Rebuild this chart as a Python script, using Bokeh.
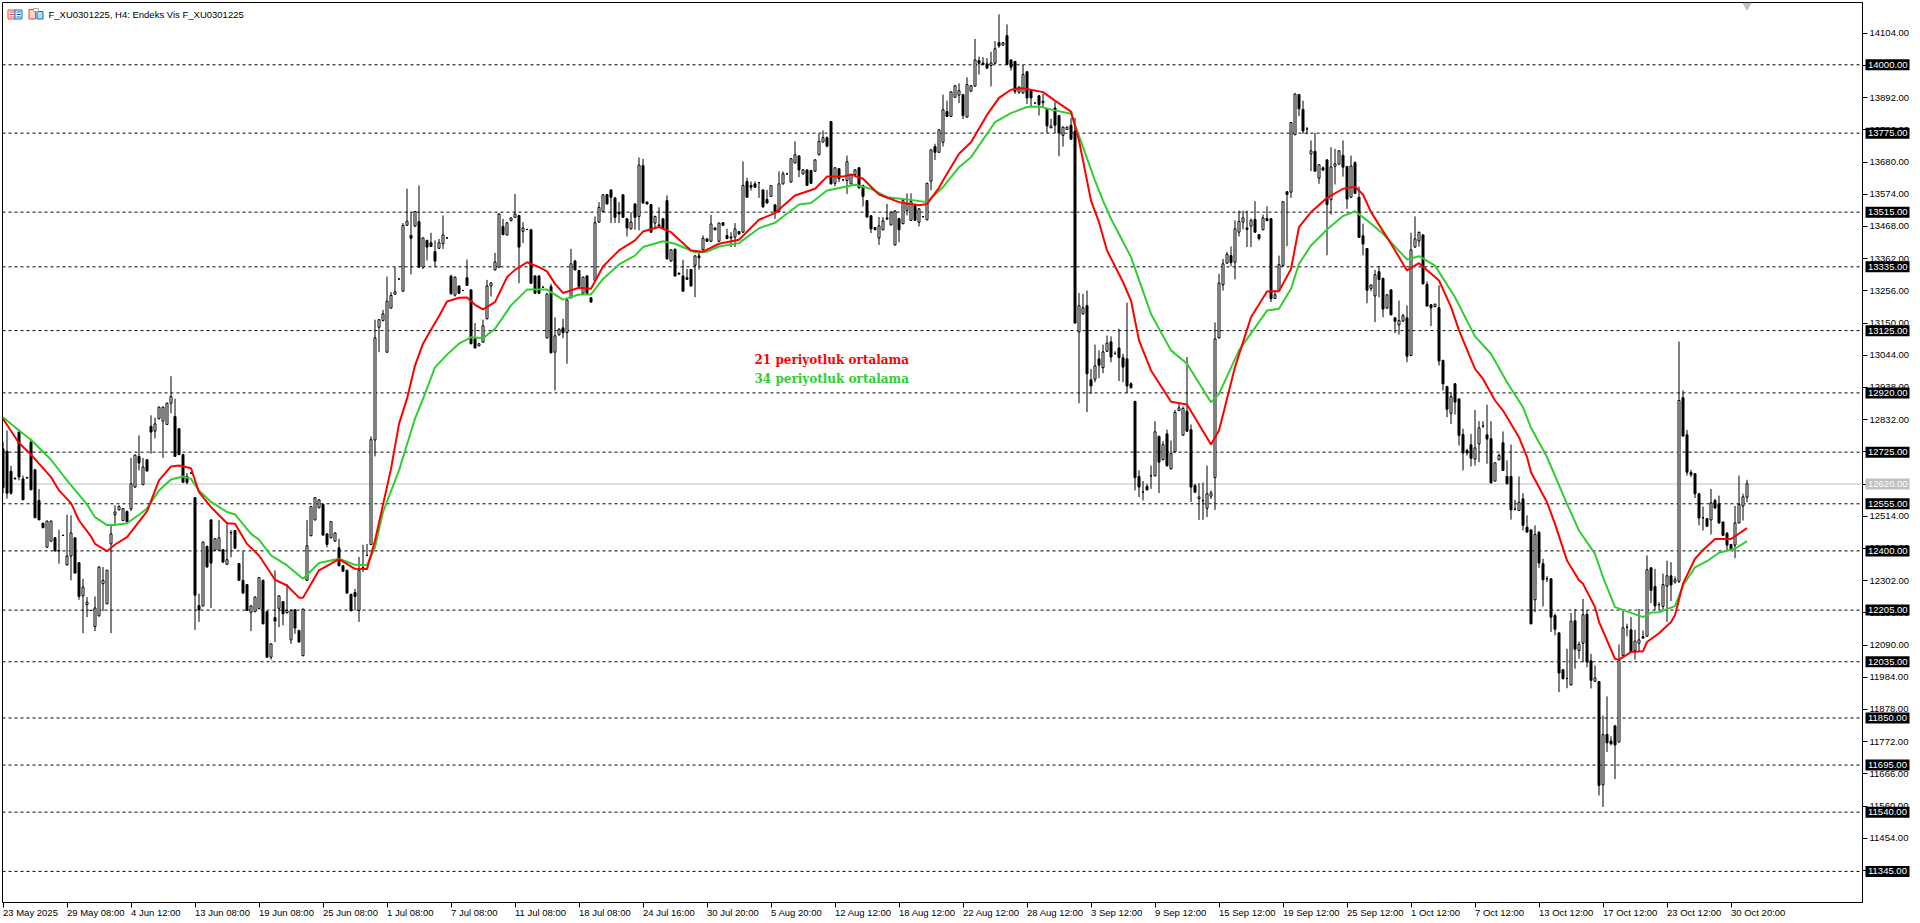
from bokeh.plotting import figure
from bokeh.layouts import column
from bokeh.models import Range1d, LinearAxis, FixedTicker, NumeralTickFormatter, Span, Label
from bokeh.core.properties import value
from bokeh.embed import file_html
from bokeh.resources import INLINE

title_text = "F_XU0301225, H4:  Endeks Vis F_XU0301225"
legend_21 = "21 periyotluk ortalama"
legend_34 = "34 periyotluk ortalama"

opens = [
12736,12728,12662,12637,12791,12637,12640,12758,12667,12566,
12491,12412,12432,12443,12401,12451,12354,12383,12443,12361,
12252,12223,12204,12151,12186,12292,12226,12423,12519,12535,
12500,12530,12538,12610,12711,12618,12700,12810,12794,12835,
12827,12816,12886,12842,12802,12717,12645,12656,12575,12220,
12219,12415,12502,12402,12402,12404,12356,12459,12467,12358,
12303,12289,12198,12200,12210,12303,12200,12050,12180,12211,
12233,12196,12107,12206,12138,12055,12303,12450,12502,12542,
12553,12456,12443,12432,12410,12351,12336,12257,12263,12204,
12340,12385,12421,12765,13136,13158,13054,13199,13245,13295,
13255,13472,13438,13469,13484,13334,13422,13414,13385,13396,
13411,13430,13304,13242,13272,13257,13299,13259,13098,13075,
13087,13164,13272,13325,13334,13468,13440,13487,13498,13504,
13452,13458,13457,13305,13305,13268,13101,13270,13054,13111,
13134,13119,13233,13354,13323,13248,13305,13233,13290,13482,
13517,13573,13588,13562,13515,13572,13493,13460,13542,13501,
13668,13548,13540,13479,13473,13493,13553,13354,13393,13314,
13305,13299,13326,13340,13371,13391,13427,13419,13463,13419,
13480,13438,13433,13433,13451,13449,13616,13603,13608,13612,
13588,13557,13567,13539,13517,13608,13641,13614,13677,13700,
13641,13654,13652,13650,13704,13746,13760,13813,13610,13658,
13621,13619,13608,13639,13661,13603,13553,13503,13464,13430,
13457,13496,13473,13407,13494,13477,13520,13488,13540,13482,
13500,13490,13617,13731,13712,13745,13846,13830,13893,13900,
13902,13828,13913,13930,14014,14006,14003,13998,14005,14073,
14065,14096,14016,14011,13910,13907,13977,13915,13874,13898,
13875,13854,13793,13858,13833,13768,13787,13801,13782,13121,
13180,13207,12963,12965,13032,13003,13057,13088,13049,13068,
13036,13032,12950,12892,12645,12594,12612,12647,12647,12777,
12700,12785,12670,12726,12862,12781,12860,12799,12615,12572,
12565,12540,12580,12641,13101,13276,13347,13372,13350,13449,
13482,13463,13469,13491,13441,13457,13494,13493,13231,13257,
13339,13582,13581,13770,13902,13853,13789,13707,13715,13627,
13661,13687,13556,13666,13673,13702,13665,13564,13678,13564,
13437,13395,13264,13239,13319,13297,13199,13259,13167,13144,
13156,13167,13043,13400,13420,13440,13277,13210,13204,13200,
13027,12941,12853,12950,12900,12783,12730,12749,12702,12752,
12811,12782,12769,12630,12700,12756,12645,12645,12537,12533,
12571,12478,12469,12239,12461,12358,12308,12308,12187,12130,
12009,11980,11959,12170,12072,12096,12191,12038,11971,11970,
11630,11796,11774,11824,11771,12056,12149,12140,12072,12096,
12118,12119,12344,12283,12223,12217,12284,12318,12297,12300,
12904,12782,12658,12654,12588,12509,12506,12502,12566,12555,
12495,12458,12421,12419,12492,12548,12577]

closes = [
12608,12590,12590,12639,12643,12568,12641,12601,12509,12502,
12476,12498,12498,12400,12400,12451,12383,12459,12327,12250,
12281,12231,12204,12212,12347,12303,12336,12456,12528,12546,
12539,12496,12621,12715,12689,12676,12663,12791,12818,12873,
12873,12886,12908,12711,12717,12626,12625,12656,12254,12206,
12429,12347,12360,12440,12443,12363,12371,12460,12409,12303,
12261,12204,12219,12248,12312,12160,12050,12094,12169,12252,
12193,12204,12204,12146,12100,12208,12417,12546,12575,12568,
12452,12421,12496,12459,12351,12333,12261,12203,12250,12336,
12345,12385,12766,13101,13161,13180,13222,13241,13253,13295,
13471,13485,13429,13517,13334,13430,13400,13402,13354,13414,
13440,13430,13246,13301,13248,13257,13274,13082,13068,13082,
13141,13272,13282,13351,13509,13441,13480,13496,13509,13400,
13463,13458,13281,13248,13248,13268,13246,13052,13108,13130,
13118,13226,13345,13325,13270,13301,13248,13219,13480,13531,
13572,13542,13564,13498,13509,13498,13463,13482,13498,13670,
13545,13542,13449,13501,13468,13463,13361,13391,13305,13311,
13255,13294,13272,13371,13365,13429,13419,13476,13457,13479,
13472,13428,13430,13460,13443,13603,13564,13597,13597,13612,
13532,13545,13602,13517,13608,13641,13641,13691,13704,13654,
13654,13603,13610,13687,13748,13760,13732,13608,13661,13625,
13621,13681,13639,13654,13595,13567,13499,13460,13457,13470,
13486,13492,13515,13519,13457,13553,13542,13550,13488,13526,
13500,13610,13720,13712,13786,13852,13830,13911,13931,13915,
13833,13935,13931,14016,14005,14001,13989,14006,14053,14062,
14073,14001,13992,13912,13927,13968,13891,13891,13874,13869,
13880,13799,13799,13801,13776,13795,13795,13755,13150,13207,
13200,12983,12943,13009,13011,13055,13084,13038,13049,13036,
13005,12943,12937,12641,12610,12594,12601,12647,12792,12692,
12750,12680,12720,12856,12871,12869,12794,12610,12593,12578,
12565,12588,12591,13098,13282,13345,13376,13349,13460,13484,
13496,13458,13488,13449,13428,13496,13487,13230,13243,13342,
13549,13573,13810,13904,13855,13782,13789,13717,13650,13671,
13654,13540,13664,13674,13717,13663,13558,13667,13577,13432,
13410,13258,13275,13309,13293,13196,13243,13177,13156,13158,
13174,13041,13391,13427,13448,13279,13206,13200,13212,13025,
12950,12866,12908,12890,12780,12722,12722,12705,12739,12805,
12811,12768,12624,12690,12714,12665,12621,12535,12537,12560,
12484,12462,12160,12454,12360,12305,12308,12182,12142,11998,
11980,11980,12168,12076,12092,12190,12034,11974,11982,11628,
11795,11768,11765,11761,12039,12147,12149,12067,12103,12107,
12113,12338,12270,12219,12223,12289,12318,12288,12305,12895,
12778,12659,12651,12588,12508,12509,12481,12558,12541,12492,
12451,12419,12406,12492,12553,12578,12621]

highs = [
12760,12796,12680,12642,12800,12648,12644,12769,12670,12604,
12493,12500,12500,12445,12470,12453,12519,12517,12445,12363,
12308,12248,12206,12250,12349,12347,12338,12488,12550,12550,
12541,12532,12706,12717,12780,12706,12702,12846,12838,12875,
12875,12888,12975,12901,12804,12719,12656,12658,12577,12259,
12431,12417,12504,12442,12502,12406,12495,12469,12469,12360,
12399,12291,12221,12250,12314,12305,12202,12096,12336,12254,
12235,12290,12208,12208,12140,12210,12502,12548,12577,12570,
12555,12458,12498,12461,12440,12353,12338,12259,12275,12380,
12420,12423,12777,13161,13163,13193,13303,13252,13334,13297,
13479,13592,13515,13519,13603,13432,13424,13447,13422,13427,
13504,13432,13309,13303,13274,13259,13359,13261,13150,13084,
13161,13292,13284,13381,13511,13493,13482,13498,13575,13506,
13482,13460,13459,13307,13307,13270,13248,13279,13169,13132,
13164,13228,13394,13358,13325,13303,13307,13235,13501,13548,
13574,13575,13590,13564,13548,13574,13495,13515,13544,13695,
13690,13550,13542,13503,13531,13495,13570,13393,13395,13316,
13358,13328,13328,13373,13387,13438,13429,13506,13465,13481,
13482,13460,13449,13479,13453,13682,13628,13616,13616,13614,
13590,13588,13604,13541,13649,13649,13643,13693,13748,13702,
13656,13656,13654,13689,13773,13784,13764,13815,13663,13660,
13623,13701,13641,13656,13663,13605,13555,13505,13466,13499,
13499,13542,13517,13521,13496,13555,13577,13577,13542,13528,
13502,13612,13722,13740,13788,13902,13882,13913,13933,13939,
13904,13959,13933,14085,14027,14025,14022,14043,14078,14166,
14075,14133,14018,14013,13929,14000,13979,13917,13876,13900,
13904,13856,13822,13877,13835,13797,13797,13825,13825,13249,
13246,13257,12999,13079,13060,13079,13109,13106,13057,13131,
13049,13217,12955,12894,12665,12630,12621,12681,12827,12779,
12761,12799,12763,12864,12884,12875,13038,12816,12621,12623,
12625,12681,12599,13152,13312,13361,13384,13402,13488,13520,
13520,13520,13494,13551,13443,13507,13534,13495,13257,13372,
13551,13584,13812,13906,13904,13882,13795,13751,13776,13673,
13665,13689,13729,13723,13719,13751,13667,13701,13682,13599,
13477,13397,13277,13325,13338,13299,13245,13261,13169,13224,
13180,13208,13447,13501,13452,13442,13287,13212,13214,13274,
13029,12943,12922,12952,12902,12802,12736,12785,12864,12827,
12827,12881,12827,12692,12720,12793,12698,12750,12568,12645,
12590,12517,12471,12484,12465,12374,12317,12310,12193,12132,
12011,12078,12196,12209,12102,12242,12206,12061,12023,11972,
11858,11921,11790,11826,12092,12204,12160,12182,12140,12209,
12138,12385,12347,12341,12231,12325,12368,12363,12316,13089,
12928,12798,12667,12656,12590,12546,12508,12604,12571,12582,
12497,12462,12423,12548,12648,12588,12634]

lows = [
12590,12572,12585,12635,12632,12568,12638,12600,12509,12502,
12476,12410,12430,12398,12358,12449,12352,12303,12325,12239,
12129,12182,12202,12136,12184,12202,12224,12129,12489,12533,
12498,12494,12531,12608,12665,12616,12661,12720,12770,12833,
12706,12814,12853,12709,12715,12624,12619,12654,12140,12166,
12217,12345,12212,12400,12400,12361,12354,12379,12407,12301,
12259,12202,12136,12198,12208,12158,12048,12042,12100,12149,
12155,12194,12094,12127,12098,12053,12301,12448,12500,12540,
12450,12412,12441,12430,12349,12331,12259,12201,12204,12166,
12330,12382,12419,12711,13054,13156,13052,13197,13243,13293,
13253,13470,13310,13467,13332,13328,13356,13400,13334,13394,
13394,13428,13244,13237,13246,13255,13272,13080,13066,13073,
13085,13162,13237,13323,13332,13439,13438,13485,13496,13281,
13413,13456,13279,13246,13246,13266,13099,13050,12928,13109,
13100,13016,13231,13323,13268,13246,13246,13217,13288,13480,
13515,13540,13479,13479,13479,13496,13435,13458,13457,13455,
13543,13540,13447,13463,13466,13461,13359,13352,13303,13309,
13253,13292,13270,13235,13326,13389,13417,13417,13455,13417,
13470,13426,13400,13400,13441,13447,13562,13586,13595,13562,
13530,13543,13565,13493,13515,13606,13639,13612,13675,13630,
13639,13601,13608,13648,13702,13744,13729,13606,13600,13614,
13619,13575,13606,13637,13593,13534,13497,13446,13455,13407,
13455,13490,13471,13405,13416,13475,13504,13486,13486,13468,
13498,13488,13587,13687,13710,13731,13828,13828,13891,13874,
13821,13826,13911,13928,13968,13999,13987,13929,14003,14056,
14063,13999,13981,13904,13904,13905,13871,13863,13872,13833,
13860,13776,13791,13776,13699,13731,13785,13753,13148,12886,
13178,12857,12917,12955,12969,12985,13055,13021,13047,12959,
12955,12919,12935,12599,12577,12566,12599,12604,12645,12590,
12698,12678,12668,12724,12860,12779,12792,12561,12591,12502,
12502,12511,12571,12535,13099,13257,13345,13337,13294,13435,
13458,13400,13400,13447,13422,13455,13485,13219,13229,13255,
13337,13403,13562,13768,13831,13773,13771,13650,13648,13608,
13650,13373,13507,13606,13671,13632,13526,13562,13575,13430,
13373,13215,13255,13153,13235,13169,13197,13175,13117,13112,
13154,13021,13041,13398,13402,13277,13204,13140,13202,13010,
12928,12840,12818,12849,12747,12665,12714,12678,12681,12692,
12805,12687,12622,12628,12698,12663,12619,12503,12533,12531,
12467,12460,12158,12198,12344,12217,12297,12133,12122,11935,
11976,11948,11957,12012,12045,12034,12017,11947,11969,11595,
11557,11738,11760,11649,11769,12054,12119,12065,12042,12070,
12111,12117,12228,12206,12206,12206,12166,12235,12292,12294,
12776,12648,12643,12574,12484,12467,12479,12454,12539,12490,
12449,12399,12404,12376,12490,12500,12560]

ma21_bar = [0,4,7,9,12,14,17,19,22,23,26,28,31,36,39,42,44,47,49,52,56,58,61,64,68,71,74,75,79,84,88,91,93,97,99,101,103,105,107,109,111,114,116,118,120,123,126,128,131,134,136,138,140,144,147,150,154,158,160,164,167,172,175,179,184,189,193,198,203,206,210,212,215,219,224,229,231,234,235,239,242,246,249,252,255,260,263,267,269,270,272,274,276,280,282,284,287,292,296,302,304,308,312,316,319,322,324,327,331,335,338,340,342,347,351,354,359,362,364,368,370,373,375,379,381,382,386,388,391,394,395,398,399,403,404,407,410,411,414,417,418,420,423,425,428,432,436]
ma21_val = [12835,12755,12717,12687,12643,12599,12557,12500,12448,12423,12399,12421,12445,12530,12632,12678,12681,12672,12593,12544,12491,12489,12423,12385,12305,12286,12246,12246,12336,12373,12341,12340,12434,12670,12818,12901,13010,13082,13128,13172,13221,13233,13234,13210,13195,13219,13301,13325,13350,13334,13320,13279,13249,13266,13263,13336,13389,13422,13451,13466,13449,13389,13385,13411,13424,13490,13512,13570,13592,13632,13632,13639,13625,13573,13548,13538,13542,13595,13619,13707,13745,13835,13891,13918,13923,13910,13882,13846,13751,13685,13553,13482,13389,13285,13224,13093,12994,12891,12882,12750,12796,13005,13169,13254,13255,13328,13466,13515,13562,13592,13599,13573,13515,13411,13323,13347,13290,13203,13126,12999,12966,12895,12862,12774,12709,12659,12560,12489,12368,12303,12292,12215,12166,12045,12042,12067,12070,12100,12129,12166,12188,12292,12374,12403,12439,12439,12475]

ma34_bar = [0,4,7,12,16,21,23,26,28,31,34,36,39,42,45,47,49,52,56,58,62,64,67,71,75,79,84,88,91,93,95,99,103,105,108,111,114,117,120,123,127,131,136,140,144,147,150,154,158,160,165,168,173,176,179,184,189,193,199,202,206,213,217,221,226,231,235,239,242,248,252,256,259,263,267,270,273,275,277,282,287,292,296,302,304,309,316,319,322,324,327,331,335,338,341,345,351,354,358,363,368,372,376,380,382,386,391,394,398,400,403,410,412,414,418,420,423,426,429,433,436]
ma34_val = [12840,12796,12766,12700,12632,12553,12511,12485,12485,12491,12519,12539,12599,12635,12645,12637,12599,12561,12528,12520,12456,12437,12385,12352,12308,12360,12374,12354,12353,12412,12528,12665,12835,12900,13004,13046,13082,13103,13100,13131,13208,13260,13260,13227,13244,13244,13295,13343,13372,13400,13419,13411,13383,13385,13402,13413,13462,13480,13540,13545,13586,13605,13592,13564,13557,13548,13597,13663,13696,13811,13841,13861,13863,13850,13839,13729,13619,13553,13493,13367,13180,13060,13016,12889,12917,13060,13191,13197,13263,13345,13405,13458,13502,13518,13488,13444,13359,13370,13339,13235,13106,13049,12955,12873,12805,12709,12555,12467,12390,12314,12215,12182,12197,12198,12218,12286,12346,12366,12394,12407,12432]

levels = [14000,13775,13515,13335,13125,12920,12725,12555,12400,12205,12035,11850,11695,11540,11345]
current_price = 12620
price_ticks = [14104,13998,13892,13786,13680,13574,13468,13362,13256,13150,13044,12938,12832,12726,12620,12514,12408,12302,12196,12090,11984,11878,11772,11666,11560,11454,11348]
date_labels = ["23 May 2025","29 May 08:00","4 Jun 12:00","13 Jun 08:00","19 Jun 08:00","25 Jun 08:00","1 Jul 08:00","7 Jul 08:00","11 Jul 08:00","18 Jul 08:00","24 Jul 16:00","30 Jul 20:00","5 Aug 20:00","12 Aug 12:00","18 Aug 12:00","22 Aug 12:00","28 Aug 12:00","3 Sep 12:00","9 Sep 12:00","15 Sep 12:00","19 Sep 12:00","25 Sep 12:00","1 Oct 12:00","7 Oct 12:00","13 Oct 12:00","17 Oct 12:00","23 Oct 12:00","30 Oct 20:00"]
date_bars = [16 * i for i in range(len(date_labels))]

PX_PER_BAR = 4.0
PX_PER_UNIT = 0.3038
def X(px):
    return (px - 2.5) / PX_PER_BAR
def Y(py):
    return 14000 - (py - 64.3) / PX_PER_UNIT

FONT = "Liberation Sans"
FS = "9.5px"

p = figure(width=1918, height=917, output_backend="svg", toolbar_location=None,
           x_range=Range1d(X(2), X(1862)), y_range=Range1d(Y(902), Y(2)),
           min_border_left=0, min_border_top=0, min_border_right=58, min_border_bottom=17,
           x_axis_location=None, y_axis_location=None, background_fill_color="white",
           outline_line_color="black", outline_line_width=1, frame_align=False)
p.margin = (2, 0, 0, 2)
p.grid.visible = False

yaxis = LinearAxis(ticker=FixedTicker(ticks=price_ticks), formatter=NumeralTickFormatter(format="0.00"),
                   axis_line_color="black", major_tick_line_color="black", major_tick_in=0, major_tick_out=5,
                   minor_tick_line_color=None, major_label_standoff=2, major_label_text_font=FONT,
                   major_label_text_font_size=FS, major_label_text_color="black")
p.add_layout(yaxis, "right")
xaxis = LinearAxis(ticker=FixedTicker(ticks=date_bars), major_label_text_color=None,
                   axis_line_color="black", major_tick_line_color="black", major_tick_in=0, major_tick_out=5,
                   minor_tick_line_color=None, major_label_text_font_size="1px", major_label_standoff=0)
p.add_layout(xaxis, "below")

for lv in levels:
    p.add_layout(Span(location=lv, dimension="width", line_color="black", line_width=1, line_dash="3 3", level="underlay"))
p.add_layout(Span(location=current_price, dimension="width", line_color="#c0c0c0", line_width=1, level="underlay"))

bars = list(range(len(opens)))
up = [i for i in bars if closes[i] >= opens[i]]
dn = [i for i in bars if closes[i] < opens[i]]
p.segment(x0=bars, y0=lows, x1=bars, y1=highs, line_color="black", line_width=1)
p.vbar(x=up, width=0.5, bottom=[opens[i] for i in up], top=[closes[i] for i in up],
       fill_color="white", line_color="black", line_width=1)
p.vbar(x=dn, width=0.5, bottom=[closes[i] for i in dn], top=[opens[i] for i in dn],
       fill_color="black", line_color="black", line_width=1)

p.line(ma34_bar, ma34_val, line_color="#32cd32", line_width=2)
p.line(ma21_bar, ma21_val, line_color="#ff0000", line_width=2)

p.scatter(x=[len(opens) - 1], y=[Y(5)], marker="inverted_triangle", size=8, color="#c0c0c0")

p.add_layout(Label(x=X(48), y=Y(13.5), text=title_text, text_font=FONT, text_font_size=FS, text_baseline="middle", text_color="black"))
p.add_layout(Label(x=X(754), y=Y(359), text=legend_21, text_font="DejaVu Serif", text_font_size="12px", text_font_style="bold",
                   text_color="#ff0000", text_baseline="middle"))
p.add_layout(Label(x=X(754), y=Y(378.7), text=legend_34, text_font="DejaVu Serif", text_font_size="12px", text_font_style="bold",
                   text_color="#32cd32", text_baseline="middle"))

def icon_box(x0, x1, y0, y1, line, fill):
    p.quad(left=[X(x0)], right=[X(x1)], top=[Y(y0)], bottom=[Y(y1)], line_color=line, fill_color=fill, line_width=1)
icon_box(7.5, 14.5, 9.5, 18.5, "#e8423c", "white")
icon_box(14.5, 21.5, 9.5, 18.5, "#0a6cb8", "white")
for yy in (11.5, 14, 16.5):
    p.segment(x0=[X(9)], y0=[Y(yy)], x1=[X(13.5)], y1=[Y(yy)], line_color="#e8423c", line_width=1)
    p.segment(x0=[X(16)], y0=[Y(yy)], x1=[X(20.5)], y1=[Y(yy)], line_color="#0a6cb8", line_width=1)
icon_box(28.5, 35, 9, 18.5, "#e8423c", "#fcd5d0")
icon_box(36.5, 42.5, 11, 18.5, "#0a6cb8", "#b5dcf5")
icon_box(33, 38, 8, 11, "#a8a8a8", "white")

# Transparent overlay with the same scales extended over the margins, for the
# price tags and left-aligned date labels that lie outside the main plot frame.
o = figure(width=1918, height=917, output_backend="svg", toolbar_location=None,
           x_range=Range1d(X(2), X(1920)), y_range=Range1d(Y(919), Y(2)),
           min_border_left=0, min_border_top=0, min_border_right=0, min_border_bottom=0,
           x_axis_location=None, y_axis_location=None, background_fill_color=None,
           border_fill_color=None, outline_line_color=None, frame_align=False)
o.margin = (-917, 0, 0, 2)
o.grid.visible = False
tag_prices = levels + [current_price]
tag_colors = ["black"] * len(levels) + ["#c0c0c0"]
o.rect(x=[X(1887)] * len(tag_prices), y=tag_prices, width=44, height=11, width_units="screen", height_units="screen",
       fill_color=tag_colors, line_color=None)
o.text(x=[X(1867.5)] * len(tag_prices), y=tag_prices, text=[f"{v:.2f}" for v in tag_prices], text_color="white",
       text_font=value(FONT), text_font_size=FS, text_baseline="middle", text_align="left")
o.text(x=date_bars, y=[Y(912)] * len(date_bars), text=date_labels, text_color="black",
       text_font=value(FONT), text_font_size=FS, text_baseline="middle", text_align="left")

open("out.html", "w").write(file_html(column(p, o, spacing=0), INLINE))
